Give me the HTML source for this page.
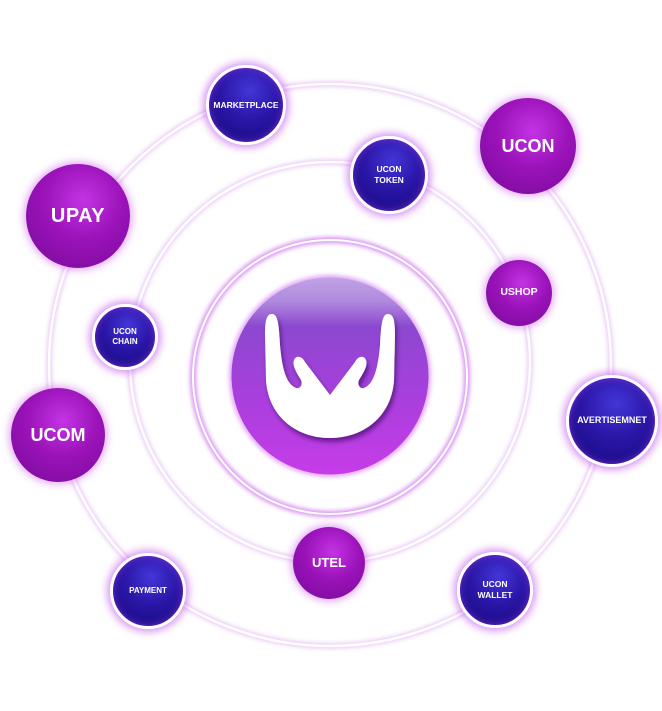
<!DOCTYPE html>
<html><head><meta charset="utf-8"><style>
html,body{margin:0;padding:0;background:#fff;}
body{width:662px;height:711px;overflow:hidden;position:relative;font-family:"Liberation Sans",sans-serif;}
svg{position:absolute;left:0;top:0;}
.n{position:absolute;border-radius:50%;display:flex;align-items:center;justify-content:center;text-align:center;color:#fff;font-weight:bold;box-sizing:border-box;line-height:1.25;}
.p{background:radial-gradient(circle at 55% 35%,#c433e4 0%,#9a12b8 45%,#760a98 100%);box-shadow:0 0 8px 2px rgba(200,90,235,0.55);}
.b{background:radial-gradient(circle at 55% 30%,#4335d8 0%,#2a16a6 45%,#1d0f8e 75%,#3a1aa8 100%);border:3px solid #fff;box-shadow:0 0 8px 3px rgba(190,80,235,0.6),inset 0 0 8px rgba(170,60,230,0.6);}
</style></head><body>
<svg width="662" height="711" viewBox="0 0 662 711">
<defs>
<filter id="g" x="-20%" y="-20%" width="140%" height="140%"><feGaussianBlur stdDeviation="2"/></filter>
<filter id="sh" x="-20%" y="-20%" width="140%" height="140%"><feDropShadow dx="2" dy="4" stdDeviation="2.5" flood-color="#2a0050" flood-opacity="0.55"/></filter>
<linearGradient id="lg" x1="0" y1="0" x2="0" y2="1">
<stop offset="0" stop-color="#c0a2e4"/><stop offset="0.12" stop-color="#b08ade"/><stop offset="0.25" stop-color="#8c48d0"/><stop offset="0.6" stop-color="#a83fdc"/><stop offset="1" stop-color="#c63ce8"/>
</linearGradient>
</defs>
<g fill="none">
<circle cx="330" cy="365" r="281" stroke="#e8c4f6" stroke-width="5" filter="url(#g)"/>
<circle cx="330" cy="365" r="281" stroke="#fff" stroke-width="2.5"/>
<circle cx="330" cy="362" r="200" stroke="#e8c4f6" stroke-width="5" filter="url(#g)"/>
<circle cx="330" cy="362" r="200" stroke="#fff" stroke-width="2.5"/>
<circle cx="330" cy="377" r="137" stroke="#d890f0" stroke-width="6" filter="url(#g)"/>
<circle cx="330" cy="377" r="137" stroke="#fff" stroke-width="2"/>
</g>
<circle cx="330" cy="376" r="101" fill="#d070f0" filter="url(#g)" opacity="0.6"/>
<circle cx="330" cy="376" r="98.5" fill="url(#lg)"/>
<path filter="url(#sh)" fill="#fff" d="M272,314 C266,314 265,322 265,335 L266,380 C268,415 295,438 330,438 C365,438 392,415 394,380 L395,335 C395,322 394,314 388,314 C382,314 381,325 380,345 C378,368 374,384 364,388 C360,389 357,385 359,380 C364,372 368,365 366,360 C364,355 358,356 355,362 L330,395 L305,362 C302,356 296,355 294,360 C292,365 296,372 301,380 C303,385 300,389 296,388 C286,384 282,368 280,345 C279,325 278,314 272,314 Z"/>
</svg>

<div class="n b" style="left:206px;top:65px;width:80px;height:80px;font-size:8.5px;">MARKETPLACE</div>
<div class="n p" style="left:26px;top:164px;width:104px;height:104px;font-size:20px;letter-spacing:0.5px;">UPAY</div>
<div class="n b" style="left:92px;top:304px;width:66px;height:66px;font-size:8px;">UCON<br>CHAIN</div>
<div class="n p" style="left:480px;top:98px;width:96px;height:96px;font-size:18px;">UCON</div>
<div class="n b" style="left:350px;top:136px;width:78px;height:78px;font-size:8.5px;">UCON<br>TOKEN</div>
<div class="n p" style="left:486px;top:260px;width:66px;height:66px;font-size:10.5px;">USHOP</div>
<div class="n p" style="left:11px;top:388px;width:94px;height:94px;font-size:18px;">UCOM</div>
<div class="n b" style="left:566px;top:375px;width:92px;height:92px;font-size:9px;">AVERTISEMNET</div>
<div class="n b" style="left:110px;top:553px;width:76px;height:76px;font-size:8px;">PAYMENT</div>
<div class="n p" style="left:293px;top:527px;width:72px;height:72px;font-size:13px;">UTEL</div>
<div class="n b" style="left:457px;top:552px;width:76px;height:76px;font-size:8.5px;">UCON<br>WALLET</div>
</body></html>
